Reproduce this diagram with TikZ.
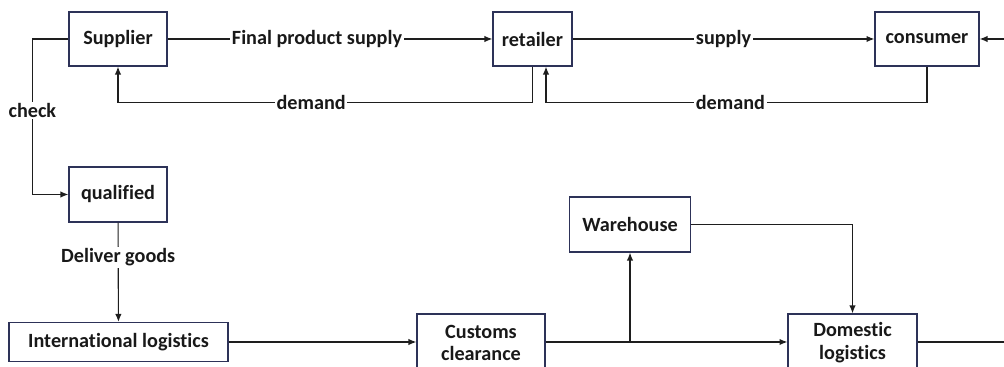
\documentclass[tikz,border=0pt]{standalone}
\usepackage{fontspec}
\setmainfont{Carlito}[Ligatures={NoCommon,NoContextual}]
\usetikzlibrary{arrows.meta}
\definecolor{boxline}{RGB}{45,50,88}
\definecolor{flowline}{RGB}{30,30,30}
\begin{document}
\begin{tikzpicture}[x=0.02cm,y=-0.02cm,
    every node/.style={font=\fontsize{11.5}{13}\selectfont\bfseries,text=black!90},
    box/.style={draw=boxline,line width=0.7pt,align=center,inner sep=2pt},
    flow/.style={draw=flowline,line width=0.65pt,-{Latex[length=4.5pt,width=3.6pt]}},
    plain/.style={draw=flowline,line width=0.65pt},
    lbl/.style={fill=white,inner sep=1pt}]
  \useasboundingbox (0,0) rectangle (1004,367);
  \clip (0,0) rectangle (1004,367);
  % upper chain
  \node[box,minimum width=1.96cm,minimum height=1.08cm] (supplier) at (118,39) {Supplier};
  \node[box,minimum width=1.58cm,minimum height=1.08cm] (retailer) at (532.5,39) {retailer};
  \node[box,minimum width=2.08cm,minimum height=1.08cm] (consumer) at (927,39) {consumer};
  \node[box,minimum width=1.96cm,minimum height=1.1cm] (qualified) at (118,194.5) {qualified};
  % lower chain
  \node[box,minimum width=4.38cm,minimum height=0.78cm] (intl) at (118.5,342) {International logistics};
  \node[box,minimum width=2.56cm,minimum height=1.16cm] (customs) at (481,343) {Customs\\clearance};
  \node[box,minimum width=2.42cm,minimum height=1.1cm] (warehouse) at (630,224.5) {Warehouse};
  \node[box,minimum width=2.58cm,minimum height=1.16cm] (domestic) at (852.5,343) {Domestic\\logistics};
  \coordinate (rin) at (1010,39);
  \coordinate (rout) at (1010,342);
  \draw[flow] (supplier) -- node[lbl,pos=0.46] {Final product supply} (retailer);
  \draw[flow] (retailer) -- node[lbl] {supply} (consumer);
  \draw[flow] (rin) -- (consumer.east);
  \draw[flow] (retailer.south) -- ++(0,36) -| node[lbl,pos=0.267] {demand} (supplier.south);
  \draw[flow] (consumer.south) -- ++(0,36) -| node[lbl,pos=0.258] {demand} ([xshift=0.27cm]retailer.south);
  \draw[flow] (supplier.west) -- ++(-36,0) |- node[lbl,pos=0.23] {check} (qualified.west);
  \draw[flow] (qualified) -- node[lbl,pos=0.35] {Deliver goods} (intl);
  \draw[flow] (intl.east) -- (intl.east -| customs.west);
  \draw[flow] (customs.east |- intl.east) -- (intl.east -| domestic.west);
  \draw[flow] (intl.east -| warehouse.south) -- (warehouse.south);
  \draw[flow] (warehouse.east) -| (domestic.north);
  \draw[plain] (intl.east -| domestic.east) -- (rout);
\end{tikzpicture}
\end{document}
